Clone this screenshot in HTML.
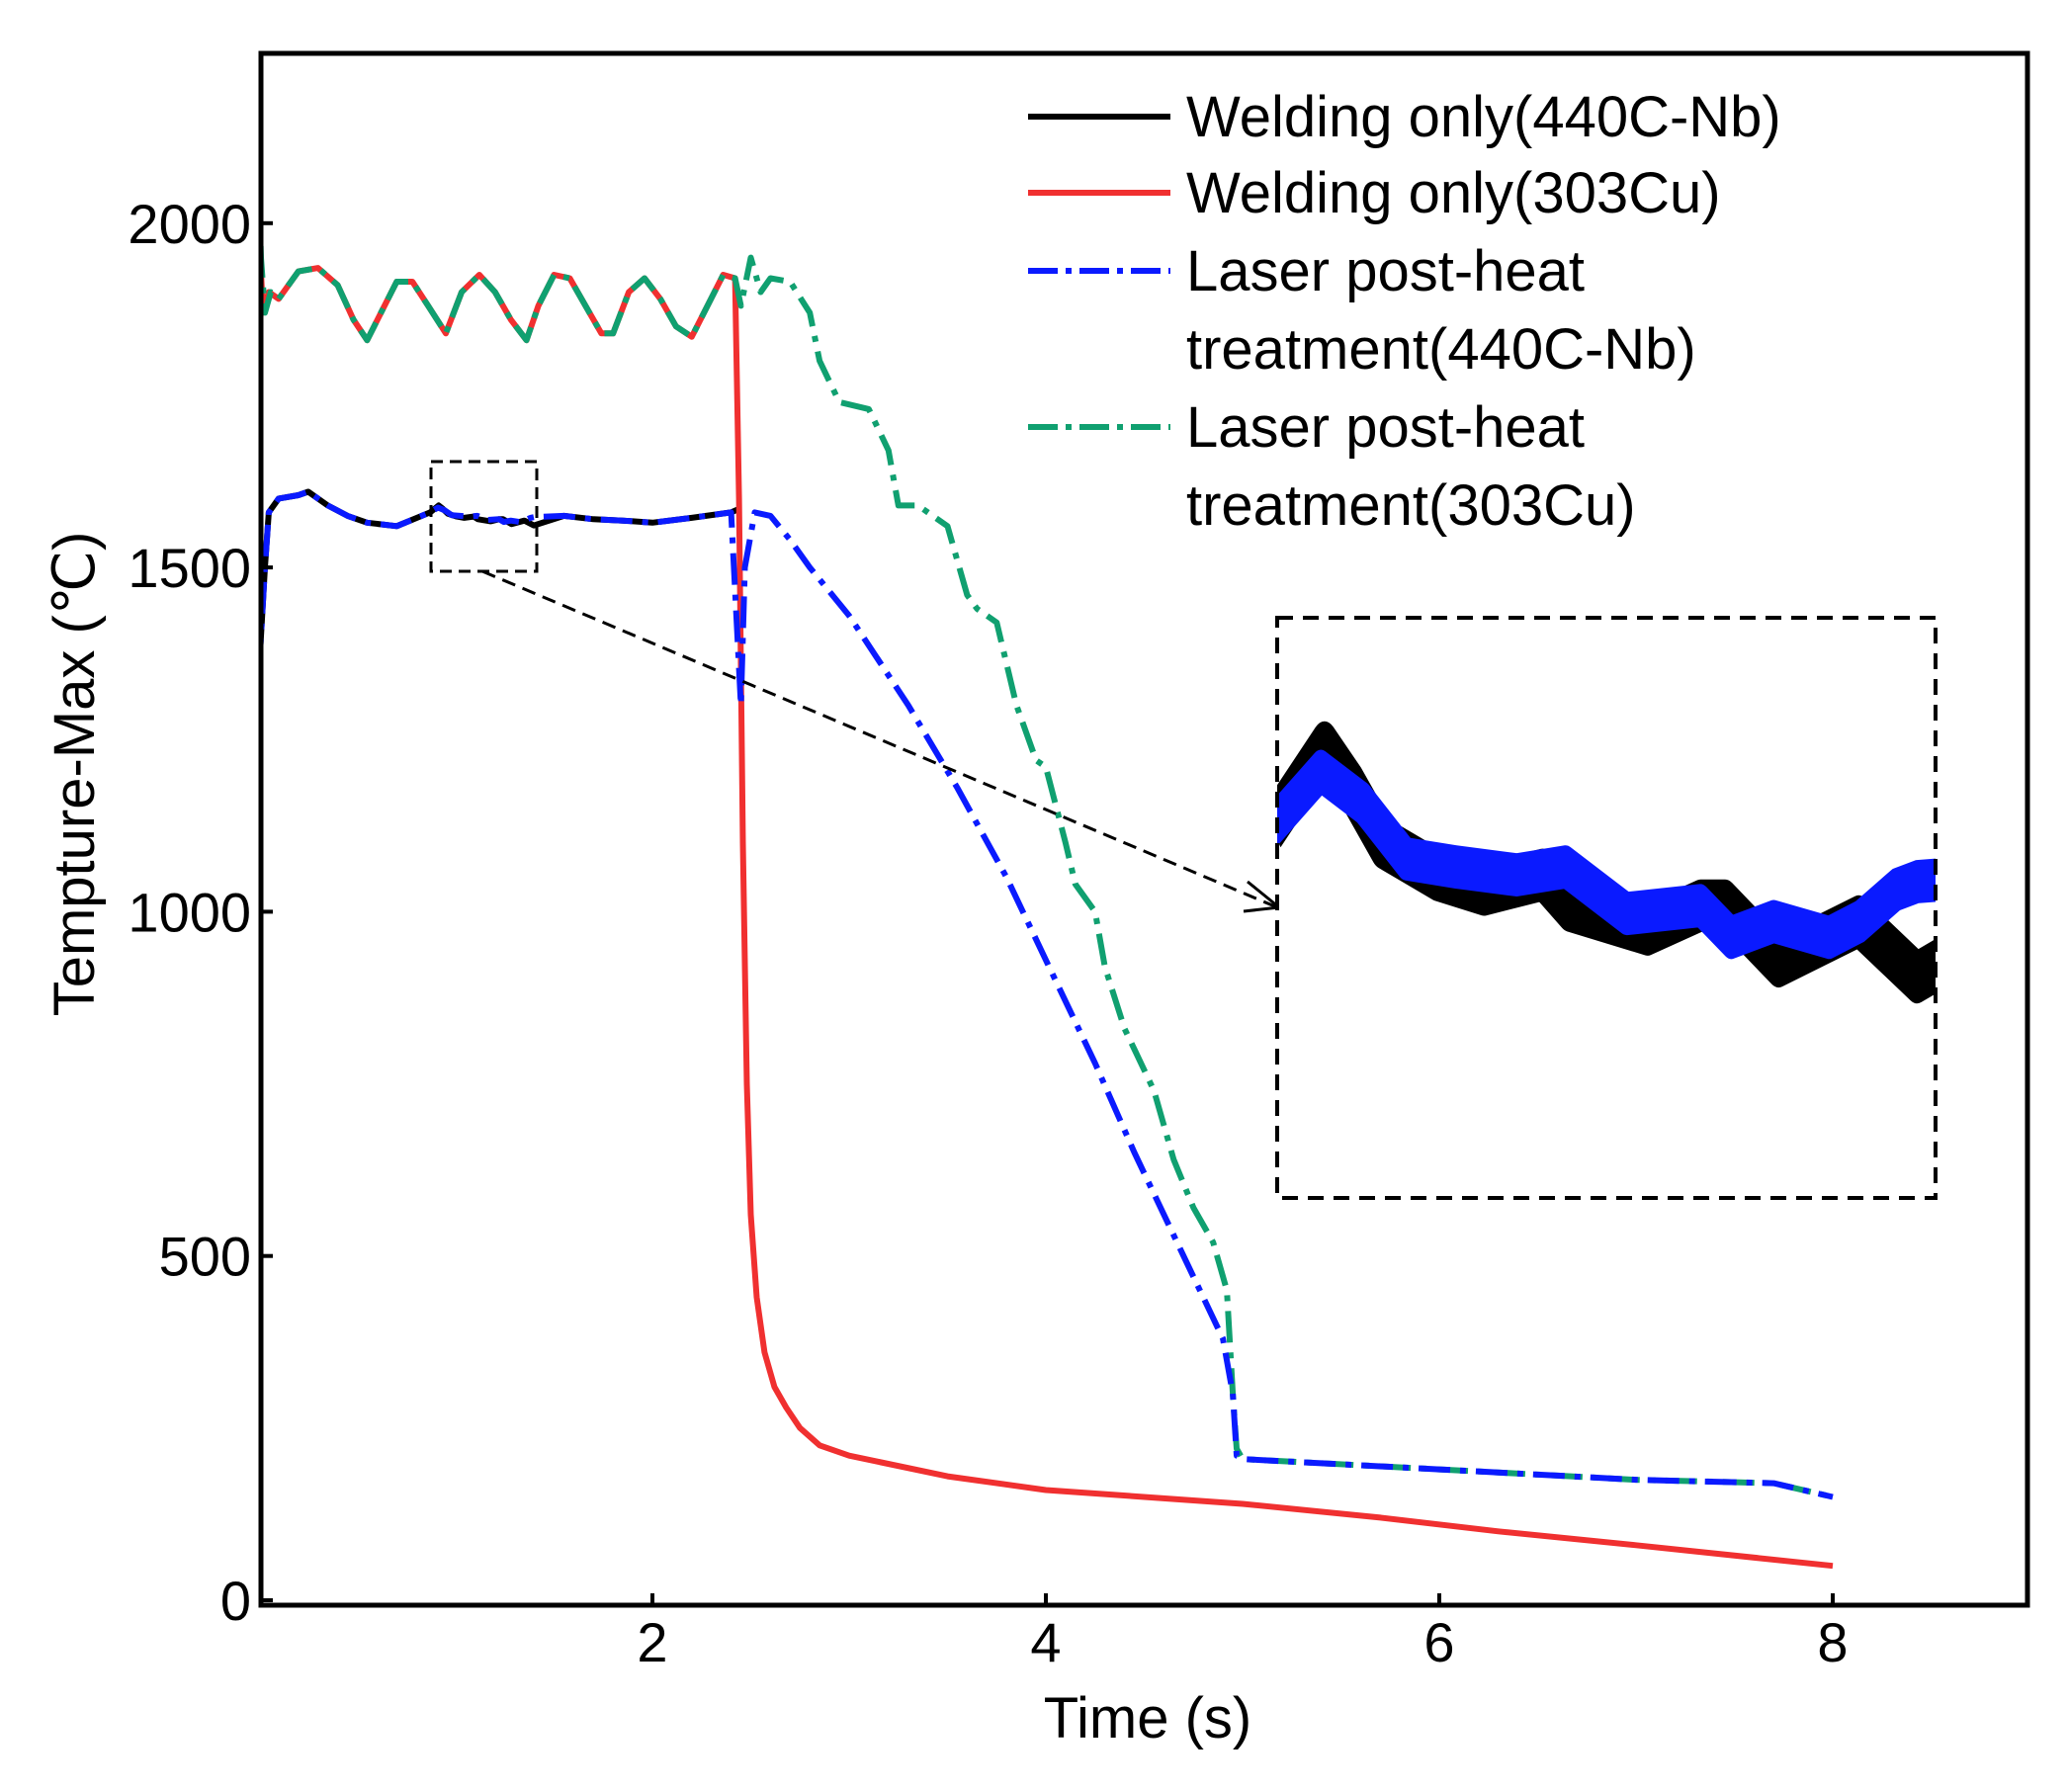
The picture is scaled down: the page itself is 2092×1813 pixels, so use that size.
<!DOCTYPE html>
<html><head><meta charset="utf-8"><style>
html,body{margin:0;padding:0;background:#fff;overflow:hidden;width:2092px;height:1813px;}
svg{display:block;font-family:"Liberation Sans",sans-serif;}
</style></head><body>
<svg id="c" width="2092" height="1813" viewBox="0 0 2092 1813">
<defs><clipPath id="plotclip"><rect x="264" y="54" width="1787" height="1570"/></clipPath></defs>
<g id="plot" clip-path="url(#plotclip)"></g>
<rect x="264" y="54" width="1787" height="1570" fill="none" stroke="#000" stroke-width="5"/>
<g id="axes"></g>
<g id="legend"></g>
</svg>
<script>
const NS="http://www.w3.org/2000/svg";
// x-axis tick values
const xTicks=[2,4,6,8];
const yTicks=[0,500,1000,1500,2000];
// Welding only (303Cu) - red
const redT=[0.0,0.02,0.05,0.1,0.2,0.3,0.4,0.48,0.55,0.62,0.7,0.78,0.86,0.95,1.03,1.12,1.2,1.28,1.36,1.42,1.5,1.58,1.66,1.74,1.8,1.88,1.96,2.04,2.12,2.2,2.28,2.36,2.42,2.44,2.46,2.48,2.5,2.53,2.57,2.62,2.68,2.75,2.85,3.0,3.5,4.0,5.0,5.7,6.3,7.0,8.0];
const redV=[1990,1870,1900,1890,1930,1935,1910,1860,1830,1870,1915,1915,1880,1840,1900,1925,1900,1860,1830,1880,1925,1920,1880,1840,1840,1900,1920,1890,1850,1835,1880,1925,1920,1600,1100,750,560,440,360,310,280,250,225,210,180,160,140,120,100,80,50];
// Laser post-heat (303Cu) - green
const grnT=[0.0,0.01,0.03,0.06,0.1,0.2,0.3,0.4,0.48,0.55,0.62,0.7,0.78,0.86,0.95,1.03,1.12,1.2,1.28,1.36,1.42,1.5,1.58,1.66,1.74,1.8,1.88,1.96,2.04,2.12,2.2,2.28,2.36,2.42,2.45,2.5,2.55,2.6,2.7,2.8,2.85,2.95,3.1,3.2,3.25,3.35,3.5,3.6,3.65,3.75,3.85,3.95,4.0,4.1,4.15,4.25,4.3,4.4,4.45,4.55,4.65,4.75,4.85,4.92,4.95,4.97,5.0,6.0,7.0,7.7,8.0];
const grnV=[2050,1950,1870,1900,1890,1930,1935,1910,1860,1830,1870,1915,1915,1880,1840,1900,1925,1900,1860,1830,1880,1925,1920,1880,1840,1840,1900,1920,1890,1850,1835,1880,1925,1920,1880,1950,1900,1920,1915,1870,1800,1740,1730,1670,1590,1590,1560,1460,1440,1420,1300,1220,1210,1100,1040,1000,920,830,800,740,640,570,520,450,300,220,205,190,175,170,150];
// Welding only (440C-Nb) - black
const blkT=[0.0,0.03,0.05,0.1,0.2,0.25,0.35,0.45,0.55,0.7,0.87,0.913,0.935,0.961,1.005,1.043,1.091,1.113,1.177,1.22,1.24,1.284,1.349,1.397,1.55,1.7,1.85,2.0,2.2,2.4,2.44];
const blkV=[1350,1500,1580,1600,1605,1610,1590,1575,1565,1560,1580,1590,1585,1578,1574,1572,1574,1570,1567,1570,1570,1563,1568,1561,1575,1570,1568,1565,1572,1580,1585];
// Laser post-heat (440C-Nb) - blue
const bluT=[0.0,0.03,0.05,0.1,0.2,0.25,0.35,0.45,0.55,0.7,0.87,0.91,0.944,0.98,1.02,1.07,1.11,1.16,1.22,1.245,1.28,1.325,1.35,1.38,1.397,1.55,1.7,1.85,2.0,2.2,2.4,2.45,2.47,2.52,2.6,2.7,2.8,3.0,3.3,3.55,3.8,4.05,4.25,4.45,4.7,4.9,4.95,4.97,5.0,6.0,7.0,7.7,8.0];
const bluV=[1350,1500,1580,1600,1605,1610,1590,1575,1565,1560,1580,1587,1583,1576,1575,1574,1575,1569,1570,1566,1568,1566,1568,1572,1573,1575,1570,1568,1565,1572,1580,1300,1500,1580,1575,1540,1500,1430,1300,1180,1050,900,780,650,500,380,300,210,205,190,175,170,150];

const X0=262,XS=199.0,Y0=1619,YS=0.6966;
const sx=t=>X0+t*XS, sy=v=>Y0-v*YS;
function pts(T,V){return T.map((t,i)=>sx(t).toFixed(1)+","+sy(V[i]).toFixed(1)).join(" ");}
function mk(tag,attrs,parent){const e=document.createElementNS(NS,tag);for(const k in attrs)e.setAttribute(k,attrs[k]);parent.appendChild(e);return e;}
const plot=document.getElementById('plot');
function series(T,V,color,dash,w,parent,name){
  const p=mk('polyline',{points:pts(T,V),fill:'none',stroke:color,'stroke-width':w,'stroke-linejoin':'round','stroke-linecap':'butt'},parent);
  if(dash)p.setAttribute('stroke-dasharray',dash);
  
  
}
function sub(T,V,a,b){const t=[],v=[];T.forEach((x,i)=>{if(x>=a&&x<=b){t.push(x);v.push(V[i]);}});return [t,v];}
series(blkT,blkV,'#000',null,6,plot,'series-welding-440c');
series(redT,redV,'#f03030',null,6,plot,'series-welding-303cu');
series(grnT,grnV,'#10a070','32,10,6,10',6,plot,'series-laser-303cu');
series(bluT,bluV,'#0a1aff','32,10,6,10',6,plot,'series-laser-440c');

// zoom box, arrow, inset
mk('rect',{x:436,y:467,width:107,height:111,fill:'none',stroke:'#000','stroke-width':3,'stroke-dasharray':'12,7',},plot);
mk('line',{x1:488,y1:578,x2:1292,y2:918,stroke:'#000','stroke-width':3,'stroke-dasharray':'14,8',},plot);
mk('polyline',{points:'1262,892 1294,918 1258,922',fill:'none',stroke:'#000','stroke-width':3,},plot);
mk('rect',{x:1292,y:625,width:666,height:587,fill:'#fff',stroke:'none',},plot);
const ins=mk('svg',{x:1292,y:625,width:666,height:587,viewBox:'436 500 107 51',preserveAspectRatio:'none',overflow:'hidden',},plot);
const bk=sub(blkT,blkV,0.75,1.6), bl=sub(bluT,bluV,0.75,1.6);
series(bk[0],bk[1],'#000',null,4.6,ins,'inset-series-welding-440c');
series(bl[0],bl[1],'#0a1aff',null,3.8,ins,'inset-series-laser-440c');
mk('rect',{x:1292,y:625,width:666,height:587,fill:'none',stroke:'#000','stroke-width':4,'stroke-dasharray':'16,10',},plot);

const axes=document.getElementById('axes');
xTicks.forEach(t=>{
  const l=mk('line',{x1:sx(t),x2:sx(t),y1:1624,y2:1612,stroke:'#000','stroke-width':4},axes);
  
  const tx=mk('text',{x:sx(t),y:1681,'font-size':56,'text-anchor':'middle',fill:'#000'},axes);tx.textContent=t;
  
});
yTicks.forEach(v=>{
  const l=mk('line',{x1:264,x2:276,y1:sy(v),y2:sy(v),stroke:'#000','stroke-width':4},axes);
  
  const tx=mk('text',{x:254,y:sy(v)+20,'font-size':56,'text-anchor':'end',fill:'#000'},axes);tx.textContent=v;
  
});
const xt=mk('text',{x:1161,y:1758,'font-size':58,'text-anchor':'middle',fill:'#000',},axes);xt.textContent='Time (s)';
const yt=mk('text',{x:0,y:0,'font-size':58,'text-anchor':'middle',fill:'#000',transform:'translate(95,783) rotate(-90)',},axes);yt.textContent='Tempture-Max (℃)';

const lg=document.getElementById('legend');
const entries=[['#000',null,118],['#f03030',null,195],['#0a1aff','30,8,6,8',274],['#10a070','30,8,6,8',432]];
entries.forEach(e=>{
  const l=mk('line',{x1:1040,x2:1184,y1:e[2],y2:e[2],stroke:e[0],'stroke-width':6},lg);
  if(e[1])l.setAttribute('stroke-dasharray',e[1]);
  
});
[['Welding only(440C-Nb)',118],['Welding only(303Cu)',195],['Laser post-heat',274],['treatment(440C-Nb)',353],['Laser post-heat',432],['treatment(303Cu)',511]].forEach(r=>{
  const t=mk('text',{x:1200,y:r[1]+20,'font-size':58,fill:'#000'},lg);t.textContent=r[0];
  
});
</script>
</body></html>
